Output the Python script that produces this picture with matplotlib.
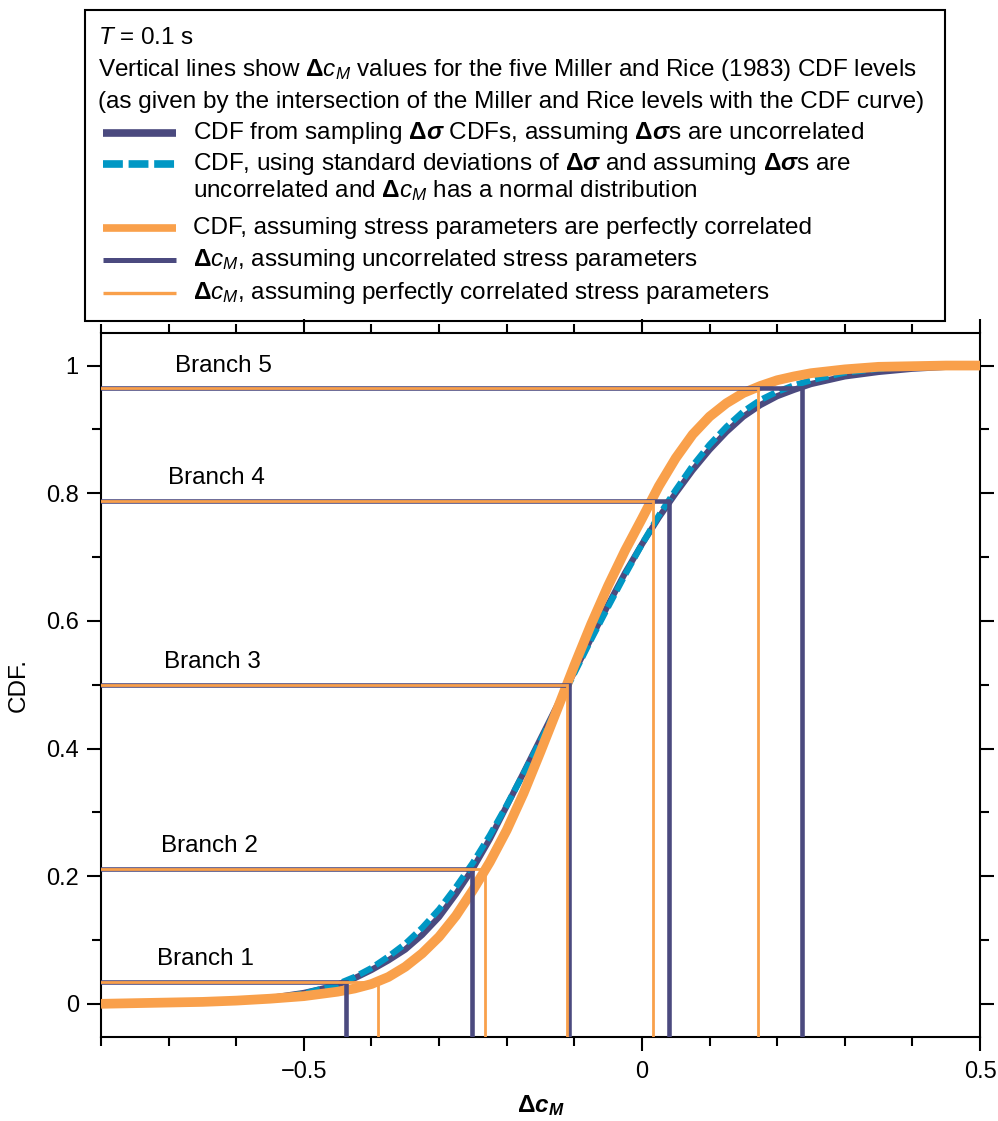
import matplotlib
matplotlib.use('Agg')
import matplotlib.pyplot as plt
from matplotlib.lines import Line2D
from matplotlib.patches import Rectangle
from matplotlib.ticker import MultipleLocator

plt.rcParams['font.family'] = ['Liberation Sans', 'DejaVu Sans']
plt.rcParams['mathtext.fontset'] = 'custom'
plt.rcParams['mathtext.rm'] = 'Liberation Sans'
plt.rcParams['mathtext.it'] = 'Liberation Sans:italic'
plt.rcParams['mathtext.bf'] = 'Liberation Sans:bold'
plt.rcParams['mathtext.bfit'] = 'Liberation Sans:bold:italic'
plt.rcParams['axes.unicode_minus'] = True

# ---------------- data ----------------
dcm_unc = [-0.80, -0.75, -0.70, -0.65, -0.60, -0.55, -0.50, -0.475, -0.45, -0.425,
           -0.40, -0.375, -0.35, -0.325, -0.30, -0.275, -0.25, -0.225, -0.20, -0.175,
           -0.15, -0.125, -0.10, -0.075, -0.05, -0.025, 0.00, 0.025, 0.05, 0.075,
           0.10, 0.125, 0.15, 0.175, 0.20, 0.225, 0.25, 0.30, 0.35, 0.40, 0.45, 0.50]
cdf_sampled = [0.000, 0.001, 0.002, 0.003, 0.005, 0.009, 0.017, 0.023, 0.030, 0.040,
               0.053, 0.068, 0.085, 0.108, 0.136, 0.172, 0.212, 0.258, 0.310, 0.362,
               0.415, 0.468, 0.520, 0.573, 0.625, 0.675, 0.720, 0.762, 0.800, 0.836,
               0.868, 0.896, 0.920, 0.938, 0.952, 0.962, 0.971, 0.983, 0.990, 0.995, 0.998, 0.999]
cdf_normal = [0.000, 0.000, 0.001, 0.002, 0.004, 0.008, 0.016, 0.023, 0.031, 0.042,
              0.056, 0.074, 0.094, 0.119, 0.148, 0.183, 0.221, 0.264, 0.311, 0.361,
              0.412, 0.465, 0.518, 0.571, 0.622, 0.672, 0.720, 0.765, 0.805, 0.843,
              0.876, 0.904, 0.928, 0.946, 0.959, 0.969, 0.977, 0.989, 0.995, 0.998, 0.999, 1.000]

dcm_cor = [-0.80, -0.75, -0.70, -0.65, -0.60, -0.55, -0.50, -0.45, -0.425, -0.40,
           -0.375, -0.35, -0.325, -0.30, -0.275, -0.25, -0.225, -0.20, -0.175, -0.15,
           -0.125, -0.10, -0.075, -0.05, -0.025, 0.00, 0.025, 0.05, 0.075, 0.10,
           0.125, 0.15, 0.175, 0.20, 0.225, 0.25, 0.275, 0.30, 0.35, 0.40, 0.45, 0.50]
cdf_correlated = [0.000, 0.001, 0.002, 0.003, 0.005, 0.008, 0.012, 0.019, 0.024, 0.031,
                  0.042, 0.058, 0.079, 0.105, 0.138, 0.178, 0.222, 0.272, 0.330, 0.395,
                  0.462, 0.530, 0.595, 0.655, 0.710, 0.760, 0.811, 0.855, 0.892, 0.920,
                  0.941, 0.957, 0.968, 0.977, 0.983, 0.988, 0.991, 0.994, 0.998, 0.999, 1.000, 1.000]

mr_levels = [0.0349, 0.2117, 0.5, 0.7883, 0.9651]
dcm_levels_unc = [-0.438, -0.252, -0.108, 0.040, 0.237]
dcm_levels_cor = [-0.391, -0.232, -0.111, 0.016, 0.172]
branch_labels = ['Branch 1', 'Branch 2', 'Branch 3', 'Branch 4', 'Branch 5']

xticks = [-0.5, 0, 0.5]
xtick_labels = ['\u22120.5', '0', '0.5']
yticks = [0, 0.2, 0.4, 0.6, 0.8, 1]
ytick_labels = ['0', '0.2', '0.4', '0.6', '0.8', '1']

header_lines = [
    r'$T$ = 0.1 s',
    r'Vertical lines show $\mathbf{\Delta}c_M$ values for the five Miller and Rice (1983) CDF levels',
    r'(as given by the intersection of the Miller and Rice levels with the CDF curve)',
]
legend_labels = [
    r'CDF from sampling $\mathbf{\Delta}\mathbfit{\sigma}$ CDFs, assuming $\mathbf{\Delta}\mathbfit{\sigma}$s are uncorrelated',
    r'CDF, using standard deviations of $\mathbf{\Delta}\mathbfit{\sigma}$ and assuming $\mathbf{\Delta}\mathbfit{\sigma}$s are',
    r'uncorrelated and $\mathbf{\Delta}c_M$ has a normal distribution',
    r'CDF, assuming stress parameters are perfectly correlated',
    r'$\mathbf{\Delta}c_M$, assuming uncorrelated stress parameters',
    r'$\mathbf{\Delta}c_M$, assuming perfectly correlated stress parameters',
]

# ---------------- style ----------------
PURPLE = '#4b4a7f'
CYAN = '#0097c4'
ORANGE = '#f9a04b'
FS = 17.5
FS_TICK = 17
W, H = 998, 1121
XMIN, XMAX = -0.8, 0.5
YMIN, YMAX = -0.052, 1.051


def fx(p):
    return p / W


def fy(p):
    return 1 - p / H


fig = plt.figure(figsize=(W / 100, H / 100), dpi=100)
ax = fig.add_axes([fx(101), fy(1037), (980 - 101) / W, (1037 - 333) / H])

# curves
ax.plot(dcm_unc, cdf_sampled, color=PURPLE, lw=4.5, solid_capstyle='butt',
        solid_joinstyle='round', zorder=2)
ax.plot(dcm_unc, cdf_normal, color=CYAN, lw=4.5, dashes=(2.2, 0.8), zorder=3)
ax.plot(dcm_cor, cdf_correlated, color=ORANGE, lw=7, solid_capstyle='butt',
        solid_joinstyle='round', zorder=4)

# level lines
for lev, xu in zip(mr_levels, dcm_levels_unc):
    ax.plot([XMIN, xu, xu], [lev, lev, YMIN], color=PURPLE, lw=3.3,
            solid_joinstyle='miter', zorder=5)
for lev, xc in zip(mr_levels, dcm_levels_cor):
    ax.plot([XMIN, xc, xc], [lev, lev, YMIN], color=ORANGE, lw=2.0,
            solid_joinstyle='miter', zorder=6)

branch_x = [-0.646, -0.640, -0.635, -0.630, -0.619]
for lev, bx, lab in zip(mr_levels, branch_x, branch_labels):
    ax.annotate(lab, xy=(bx, lev), xytext=(0, 16), textcoords='offset points',
                ha='center', va='center', fontsize=FS)

ax.set_xlim(XMIN, XMAX)
ax.set_ylim(YMIN, YMAX)
ax.set_xticks(xticks)
ax.set_xticklabels(xtick_labels)
ax.set_yticks(yticks)
ax.set_yticklabels(ytick_labels)
ax.xaxis.set_minor_locator(MultipleLocator(0.1))
ax.yaxis.set_minor_locator(MultipleLocator(0.1))
ax.tick_params(which='both', direction='out', top=True, right=True, width=1.5,
               labelsize=FS_TICK, color='black')
ax.tick_params(which='major', length=10)
ax.tick_params(which='minor', length=6.5)
ax.tick_params(axis='x', pad=7)
ax.tick_params(axis='y', pad=6)
for s in ax.spines.values():
    s.set_linewidth(1.5)

ax.set_ylabel('CDF.', fontsize=FS)
ax.yaxis.set_label_coords(-0.081, 0.5)
ax.set_xlabel(r'$\mathbf{\Delta}\mathbfit{c}_{\mathbfit{M}}$', fontsize=FS)
ax.xaxis.label.set_va('center')
ax.xaxis.set_label_coords(0.5, -0.097)

# ---------------- legend box ----------------
box = Rectangle((fx(85), fy(321)), (945 - 85) / W, (321 - 10) / H,
                transform=fig.transFigure, fill=False, lw=1.5, ec='black')
fig.add_artist(box)

header_y = [38, 70, 102]
for yy, txt in zip(header_y, header_lines):
    fig.text(fx(98), fy(yy), txt, ha='left', va='center', fontsize=FS)

handle_y = [133, 164, 228, 260, 293]
handle_styles = [
    dict(color=PURPLE, lw=5.5),
    dict(color=CYAN, lw=5.5, dashes=(2.6, 0.75)),
    dict(color=ORANGE, lw=5.5),
    dict(color=PURPLE, lw=3.6),
    dict(color=ORANGE, lw=2.4),
]
for yy, st in zip(handle_y, handle_styles):
    ln = Line2D([fx(103), fx(176)], [fy(yy), fy(yy)], transform=fig.transFigure,
                solid_capstyle='butt', **st)
    fig.add_artist(ln)

label_y = [133, 164, 191, 228, 260, 293]
for yy, txt in zip(label_y, legend_labels):
    fig.text(fx(193), fy(yy), txt, ha='left', va='center', fontsize=FS)

fig.savefig('out.png', dpi=100)
